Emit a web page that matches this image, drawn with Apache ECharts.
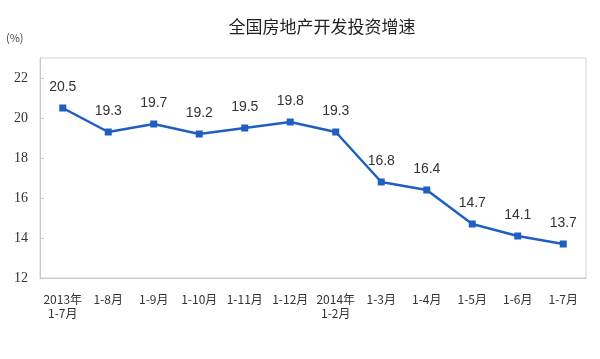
<!DOCTYPE html>
<html><head><meta charset="utf-8">
<script src="https://cdn.jsdelivr.net/npm/echarts@6/dist/echarts.min.js"></script>
<style>html,body{margin:0;padding:0;background:#fff}#c{width:600px;height:359px}</style>
</head><body><div id="c"></div>
<script>
var categories = ['2013年\n1-7月','1-8月','1-9月','1-10月','1-11月','1-12月','2014年\n1-2月','1-3月','1-4月','1-5月','1-6月','1-7月'];
var values = [20.5,19.3,19.7,19.2,19.5,19.8,19.3,16.8,16.4,14.7,14.1,13.7];
var yTicks = [12,14,16,18,20,22];

var chart = echarts.init(document.getElementById('c'));
chart.setOption({
  animation:false,
  backgroundColor:'#fff',
  title:{text:'全国房地产开发投资增速',left:317,top:13,textAlign:'center',
    textStyle:{fontSize:17,fontWeight:'normal',color:'#222',fontFamily:'Noto Sans CJK SC'}},
  graphic:[{type:'text',left:6,top:32,style:{text:'(%)',fontSize:11,fill:'#444',fontFamily:'Noto Sans CJK SC'}}],
  grid:{left:40,right:14,top:58,bottom:81,show:true,borderColor:'#d4d4d4',borderWidth:1},
  xAxis:{type:'category',data:categories,boundaryGap:true,
    axisLine:{lineStyle:{color:'#c8c8c8'}},
    axisTick:{inside:true,length:4,lineStyle:{color:'#c8c8c8'}},
    axisLabel:{interval:0,fontSize:12,color:'#333',fontFamily:'Noto Sans CJK SC',margin:14,lineHeight:14}},
  yAxis:{type:'value',min:12,max:23,interval:2,
    axisLine:{show:true,lineStyle:{color:'#c8c8c8'}},
    axisTick:{show:true,inside:true,length:4,lineStyle:{color:'#c8c8c8'}},
    splitLine:{show:false},
    axisLabel:{showMaxLabel:false,fontSize:14,color:'#333',fontFamily:'Liberation Serif',margin:12,
      formatter:function(v){return yTicks.indexOf(v)>=0?String(v):'';}}},
  series:[{type:'line',data:values,symbol:'rect',symbolSize:7,
    lineStyle:{color:'#1f5fbf',width:2.5},itemStyle:{color:'#1f5fbf'},
    label:{show:true,position:'top',distance:10,fontSize:14,color:'#333',fontFamily:'Liberation Sans'}}]
});
</script></body></html>
